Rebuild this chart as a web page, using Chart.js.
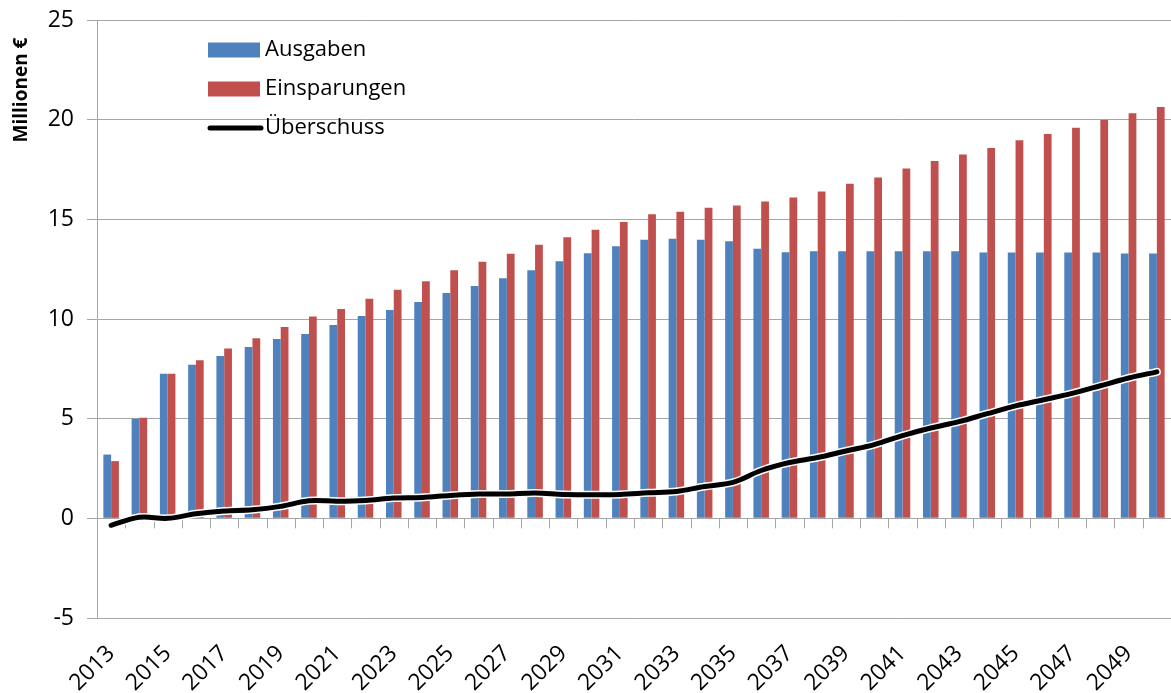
<!DOCTYPE html>
<html>
<head>
<meta charset="utf-8">
<script src="https://cdn.jsdelivr.net/npm/chart.js@4.4.0/dist/chart.umd.min.js"></script>
<style>
  html, body { margin: 0; padding: 0; background: #fff; }
  #wrap { width: 1171px; height: 693px; position: relative; }
</style>
</head>
<body>
<div id="wrap"><canvas id="chart"></canvas></div>
<script>
// Werte (Millionen €)
const jahre = ['2013', '2014', '2015', '2016', '2017', '2018', '2019', '2020', '2021', '2022',
               '2023', '2024', '2025', '2026', '2027', '2028', '2029', '2030', '2031', '2032',
               '2033', '2034', '2035', '2036', '2037', '2038', '2039', '2040', '2041', '2042',
               '2043', '2044', '2045', '2046', '2047', '2048', '2049', '2050'];

const ausgaben = [3.2, 5.0, 7.25, 7.7, 8.15, 8.6, 9.0, 9.25, 9.7, 10.15,
                  10.45, 10.85, 11.3, 11.65, 12.05, 12.45, 12.9, 13.3, 13.65, 13.97,
                  14.03, 13.97, 13.9, 13.52, 13.35, 13.4, 13.4, 13.4, 13.4, 13.4,
                  13.4, 13.33, 13.33, 13.33, 13.33, 13.33, 13.28, 13.28];

const einsparungen = [2.87, 5.05, 7.25, 7.93, 8.52, 9.03, 9.6, 10.13, 10.5, 11.02,
                      11.47, 11.9, 12.45, 12.87, 13.27, 13.72, 14.1, 14.48, 14.87, 15.25,
                      15.38, 15.58, 15.7, 15.9, 16.1, 16.4, 16.78, 17.1, 17.55, 17.93,
                      18.25, 18.58, 18.97, 19.28, 19.6, 19.98, 20.32, 20.63];

const ueberschuss = [-0.35, 0.05, 0.0, 0.23, 0.37, 0.43, 0.6, 0.88, 0.86, 0.9,
                     1.02, 1.05, 1.15, 1.22, 1.22, 1.27, 1.2, 1.18, 1.2, 1.28,
                     1.35, 1.6, 1.8, 2.4, 2.8, 3.05, 3.38, 3.7, 4.15, 4.53,
                     4.85, 5.25, 5.64, 5.95, 6.27, 6.65, 7.04, 7.35];

const yMin = -5, yMax = 25, yStep = 5;

const blau = '#4F81BD';
const rot = '#C0504D';
const gitter = '#a6a6a6';
const schrift = "'Open Sans', 'Noto Sans', sans-serif";

// Legende, Achsentitel und Achsenstriche bei 0 selbst zeichnen
const extras = {
    id: 'extras',
    beforeDatasetsDraw(chart) {
        const ctx = chart.ctx;
        const x = chart.scales.x;
        const y0 = chart.scales.y.getPixelForValue(0);
        const breite = x.getPixelForValue(1) - x.getPixelForValue(0);
        ctx.save();
        ctx.strokeStyle = gitter;
        ctx.lineWidth = 1;
        ctx.beginPath();
        for (let i = 0; i <= jahre.length; i++) {
            const px = Math.round(x.getPixelForValue(0) - breite / 2 + i * breite) + 0.5;
            ctx.moveTo(px, y0);
            ctx.lineTo(px, y0 + 10);
        }
        ctx.stroke();
        ctx.restore();
    },
    afterDraw(chart) {
        const ctx = chart.ctx;
        ctx.save();

        // Achsentitel
        ctx.translate(22, 90);
        ctx.rotate(-Math.PI / 2);
        ctx.font = 'bold 19px ' + schrift;
        ctx.fillStyle = '#000';
        ctx.textAlign = 'center';
        ctx.textBaseline = 'middle';
        ctx.fillText('Millionen €', 0, 0);
        ctx.setTransform(1, 0, 0, 1, 0, 0);

        // Legende
        const eintraege = [chart.data.datasets[0], chart.data.datasets[1], chart.data.datasets[3]];
        ctx.font = '22px ' + schrift;
        ctx.textAlign = 'left';
        ctx.textBaseline = 'middle';
        eintraege.forEach((ds, i) => {
            const cy = 50 + i * 39;
            if (ds.type === 'line') {
                ctx.strokeStyle = ds.borderColor;
                ctx.lineWidth = 5;
                ctx.lineCap = 'round';
                ctx.beginPath();
                ctx.moveTo(210, cy);
                ctx.lineTo(261, cy);
                ctx.stroke();
            } else {
                ctx.fillStyle = ds.backgroundColor;
                ctx.fillRect(208, cy - 7.5, 52, 15);
            }
            ctx.fillStyle = '#000';
            ctx.fillText(ds.label, 265, cy);
        });
        ctx.restore();
    }
};

const ctx = document.getElementById('chart').getContext('2d');
new Chart(ctx, {
    data: {
        labels: jahre,
        datasets: [
            {
                type: 'bar',
                label: 'Ausgaben',
                data: ausgaben,
                backgroundColor: blau,
                borderWidth: 0,
                order: 2,
                categoryPercentage: 0.55,
                barPercentage: 1.0
            },
            {
                type: 'bar',
                label: 'Einsparungen',
                data: einsparungen,
                backgroundColor: rot,
                borderWidth: 0,
                order: 2,
                categoryPercentage: 0.55,
                barPercentage: 1.0
            },
            {
                type: 'line',
                label: 'Rand',
                data: ueberschuss,
                borderColor: '#ffffff',
                borderWidth: 8,
                pointRadius: 0,
                tension: 0.35,
                borderCapStyle: 'round',
                order: 1
            },
            {
                type: 'line',
                label: 'Überschuss',
                data: ueberschuss,
                borderColor: '#000000',
                borderWidth: 5,
                pointRadius: 0,
                tension: 0.35,
                borderCapStyle: 'round',
                order: 0
            }
        ]
    },
    options: {
        responsive: true,
        maintainAspectRatio: false,
        animation: false,
        layout: { padding: { top: 20, right: 0, left: 0, bottom: 0 } },
        plugins: {
            legend: { display: false },
            tooltip: { enabled: false }
        },
        scales: {
            x: {
                offset: true,
                grid: { display: false, drawTicks: false },
                border: { display: false },
                ticks: {
                    autoSkip: false,
                    maxRotation: 45,
                    minRotation: 45,
                    padding: 22,
                    color: '#000',
                    font: { family: schrift, size: 23 },
                    callback: function (value, index) {
                        return index % 2 === 0 ? this.getLabelForValue(value) : '';
                    }
                },
                afterFit: function (scale) {
                    scale.height = 75;
                    scale.paddingLeft = 0;
                    scale.paddingRight = 0;
                }
            },
            y: {
                min: yMin,
                max: yMax,
                ticks: {
                    stepSize: yStep,
                    padding: 13,
                    color: '#000',
                    font: { family: schrift, size: 23 }
                },
                grid: { color: gitter, tickLength: 10 },
                border: { color: gitter },
                afterFit: function (scale) {
                    scale.width = 97;
                    scale.paddingTop = 0;
                    scale.paddingBottom = 0;
                }
            }
        }
    },
    plugins: [extras]
});
</script>
</body>
</html>
